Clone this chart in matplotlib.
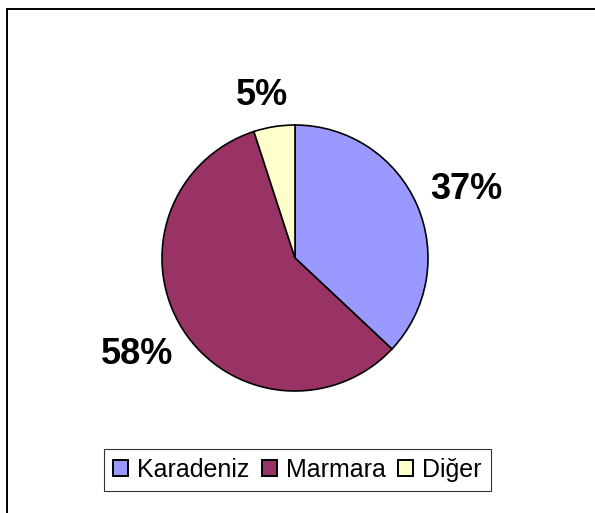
import numpy as np
import matplotlib
matplotlib.use('Agg')
import matplotlib.pyplot as plt
from matplotlib.patches import Rectangle, Patch

# chart data
regions = ['Karadeniz', 'Marmara', 'Diğer']
shares = [37, 58, 5]
pct_labels = ['37%', '58%', '5%']
colors = ['#9999FF', '#993366', '#FFFFCC']

W, H = 595, 513
fig = plt.figure(figsize=(W / 100, H / 100), dpi=100)
plt.rcParams['font.family'] = ['Liberation Sans', 'DejaVu Sans']

# outer chart border (cut off at right and bottom like the reference)
fig.patches.append(Rectangle((7 / W, -0.05), 1.1, 1 - 9 / H + 0.05,
                             transform=fig.transFigure, fill=False,
                             edgecolor='black', linewidth=1.4))

# pie axes: centre (295, 258) px, radius 133 px
cx, cy, r = 295, 258, 133
ax = fig.add_axes([(cx - r) / W, (H - cy - r) / H, 2 * r / W, 2 * r / H])
wedges, _ = ax.pie(shares, colors=colors, startangle=90, counterclock=False,
                   radius=1.0,
                   wedgeprops=dict(edgecolor='black', linewidth=1.2))
ax.set_xlim(-1, 1)
ax.set_ylim(-1, 1)
ax.set_aspect('auto')
ax.axis('off')

# percent labels outside the slices
dists = [1.39, 1.39, 1.25]
shift = [-1.5, -1.0, 2.4]
for w, lab, d, s in zip(wedges, pct_labels, dists, shift):
    ang = np.deg2rad((w.theta1 + w.theta2) / 2 + s)
    ax.text(d * np.cos(ang), d * np.sin(ang), lab, ha='center', va='center',
            fontsize=26, fontweight='bold', clip_on=False)

handles = [Patch(facecolor=c, edgecolor='black', linewidth=1.4) for c in colors]
leg = fig.legend(handles, regions, loc='center',
                 bbox_to_anchor=(297.5 / W, 1 - 470 / H), ncol=3,
                 fontsize=18, frameon=True, fancybox=False, shadow=False,
                 handlelength=0.6, handleheight=0.6, handletextpad=0.36,
                 columnspacing=0.5, borderpad=0.35, borderaxespad=0)
leg.get_frame().set_edgecolor('black')
leg.get_frame().set_linewidth(0.8)

fig.savefig('out.png', dpi=100)
